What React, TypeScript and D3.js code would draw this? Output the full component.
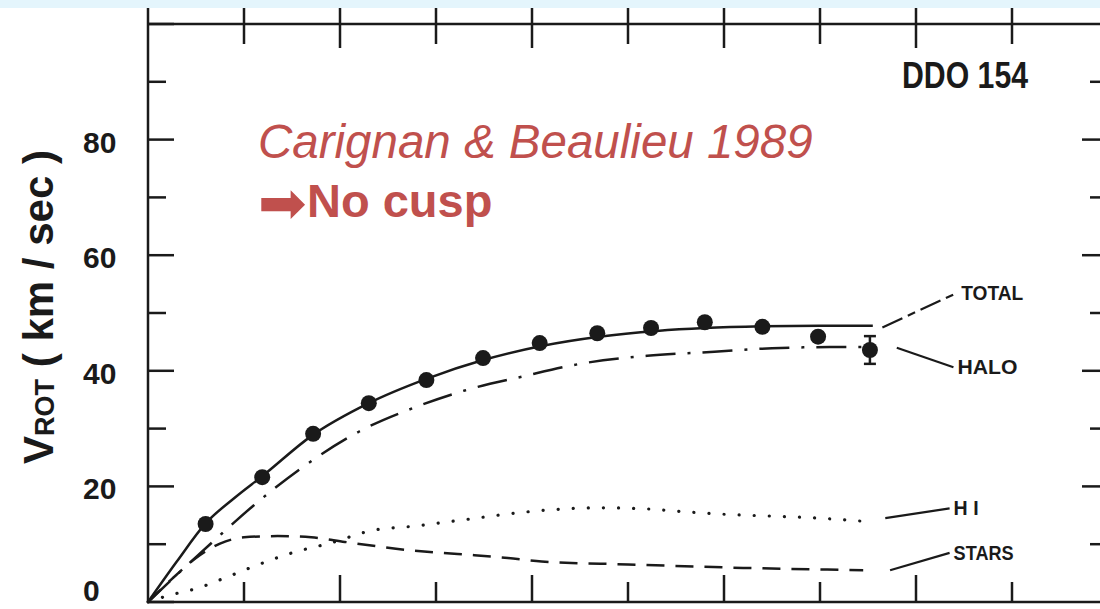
import React, { useRef, useEffect } from 'react';
import * as d3 from 'd3';

// rotation curve of DDO 154, radius in kpc, velocity in km/s
const pointR = [0.6, 1.19, 1.72, 2.3, 2.9, 3.49, 4.08, 4.68, 5.24, 5.8, 6.4, 6.98, 7.52];
const pointV = [13.5, 21.6, 29.1, 34.4, 38.4, 42.2, 44.8, 46.5, 47.4, 48.4, 47.6, 45.9, 43.6];
const pointErr = [0, 0, 0, 0, 0, 0, 0, 0, 0, 0, 0, 0, 2.4];

const totalR = [0, 0.3, 0.6, 0.9, 1.2, 1.7, 2.3, 2.9, 3.5, 4.1, 4.7, 5.3, 5.8, 6.4, 7.0, 7.55];
const totalV = [0, 7, 13.6, 18, 21.9, 28.7, 34.4, 38.6, 41.9, 44.3, 45.9, 46.9, 47.4, 47.7, 47.8, 47.8];

const haloR = [0, 0.3, 0.7, 1.1, 1.6, 2.2, 2.8, 3.3, 3.9, 4.5, 5.2, 5.9, 6.5, 7.1, 7.45];
const haloV = [0, 4.7, 10.8, 16.7, 23.2, 29.5, 33.8, 36.6, 39.0, 41.2, 42.6, 43.3, 43.9, 44.1, 44.1];

const hiR = [0, 0.23, 0.52, 0.82, 1.14, 1.5, 1.9, 2.34, 2.76, 3.28, 3.95, 4.7, 5.2, 5.6, 6.1, 6.6, 7.0, 7.5];
const hiV = [0, 1.2, 2.4, 4.3, 6.4, 8.5, 10.2, 12.4, 13.1, 14.2, 15.6, 16.3, 16.1, 15.6, 15.1, 14.8, 14.5, 13.9];

const starsR = [0, 0.25, 0.5, 0.75, 1.0, 1.35, 1.7, 2.05, 2.4, 2.7, 3.05, 3.4, 3.75, 4.1, 5.0, 6.2, 7.45];
const starsV = [0, 4.0, 7.6, 10.1, 11.2, 11.4, 11.2, 10.4, 9.6, 9.0, 8.5, 8.1, 7.6, 7.0, 6.5, 5.9, 5.5];

// curve labels with their leader lines (data units)
const labelNames = ['TOTAL', 'HALO', 'H I', 'STARS'];
const leaderFrom: [number, number][] = [[7.65, 47.5], [7.8, 44.0], [7.68, 14.5], [7.73, 5.5]];
const leaderTo: [number, number][] = [[8.43, 53.5], [8.39, 40.6], [8.35, 16.2], [8.35, 8.5]];

const yTickLabels = ['0', '20', '40', '60', '80'];
const xTicks = [1, 2, 3, 4, 5, 6, 7, 8, 9];

const INK = '#1a1a1a';
const RED = '#c0504d';

const App = () => {
  const svgRef = useRef<SVGSVGElement>(null);

  useEffect(() => {
    const svg = d3.select(svgRef.current);
    svg.selectAll('*').remove();

    const x = d3.scaleLinear().domain([0, 10]).range([148, 1108]);
    const y = d3.scaleLinear().domain([0, 100]).range([602, 24]);

    svg.append('rect').attr('width', 1100).attr('height', 609).attr('fill', '#fff');

    // frame
    const frame = svg.append('g').attr('stroke', INK).attr('stroke-width', 2.5);
    frame.append('line').attr('x1', x(0)).attr('x2', x(0)).attr('y1', 8).attr('y2', y(0));
    frame.append('line').attr('x1', x(0)).attr('x2', 1100).attr('y1', y(100)).attr('y2', y(100));
    frame.append('line').attr('x1', x(0)).attr('x2', 1100).attr('y1', y(0)).attr('y2', y(0));

    // ticks
    const yTicks = d3.range(0, 101, 10);
    frame.selectAll('.lt').data(yTicks).enter().append('line')
      .attr('x1', x(0)).attr('x2', d => x(0) + (d % 20 === 0 ? 26 : 18))
      .attr('y1', d => y(d)).attr('y2', d => y(d));
    frame.selectAll('.rt').data(yTicks.filter(d => d > 0 && d < 100)).enter().append('line')
      .attr('x1', d => x(10) - (d % 20 === 0 ? 26 : 18)).attr('x2', x(10))
      .attr('y1', d => y(d)).attr('y2', d => y(d));
    frame.selectAll('.tt').data(xTicks).enter().append('line')
      .attr('x1', d => x(d)).attr('x2', d => x(d))
      .attr('y1', 8).attr('y2', d => y(100) + (d % 2 === 0 ? 24 : 20));
    frame.selectAll('.bt').data(xTicks).enter().append('line')
      .attr('x1', d => x(d)).attr('x2', d => x(d))
      .attr('y1', y(0)).attr('y2', d => y(0) - (d % 2 === 0 ? 27 : 20));

    // y tick labels (the 0 sits a bit higher so it stays inside the picture)
    svg.selectAll('.yl').data(yTickLabels).enter().append('text')
      .attr('x', 83).attr('y', d => (+d === 0 ? 601 : y(+d) + 13))
      .attr('font-family', 'Liberation Sans, Arial, sans-serif')
      .attr('font-weight', 'bold').attr('font-size', 30).attr('fill', INK)
      .text(d => d);

    // y axis title
    const yt = svg.append('text')
      .attr('transform', `translate(53,307) rotate(-90)`)
      .attr('text-anchor', 'middle')
      .attr('font-family', 'Liberation Sans, Arial, sans-serif')
      .attr('font-weight', 'bold').attr('font-size', 42).attr('fill', INK);
    yt.append('tspan').text('V');
    yt.append('tspan').attr('font-size', 27).attr('dy', 1).text('ROT');
    yt.append('tspan').attr('dy', -1).text(' ( km / sec )');

    // curves
    const line = d3.line<[number, number]>()
      .x(d => x(d[0])).y(d => y(d[1]))
      .curve(d3.curveMonotoneX);
    const curves: { r: number[]; v: number[]; dash: string | null; cap: string; w: number }[] = [
      { r: totalR, v: totalV, dash: null, cap: 'butt', w: 2.5 },
      { r: haloR, v: haloV, dash: '30 12 3 12', cap: 'butt', w: 2.5 },
      { r: hiR, v: hiV, dash: '0.1 15', cap: 'round', w: 3.2 },
      { r: starsR, v: starsV, dash: '18 11', cap: 'butt', w: 2.5 },
    ];
    curves.forEach(c => {
      svg.append('path')
        .attr('d', line(c.r.map((r, i) => [r, c.v[i]] as [number, number])))
        .attr('fill', 'none').attr('stroke', INK).attr('stroke-width', c.w)
        .attr('stroke-linecap', c.cap)
        .attr('stroke-dasharray', c.dash);
    });

    // observed points
    const pts = pointR.map((r, i) => ({ r, v: pointV[i], e: pointErr[i] }));
    const eb = svg.append('g').attr('stroke', INK).attr('stroke-width', 2.5);
    pts.filter(p => p.e > 0).forEach(p => {
      eb.append('line').attr('x1', x(p.r)).attr('x2', x(p.r)).attr('y1', y(p.v + p.e)).attr('y2', y(p.v - p.e));
      eb.append('line').attr('x1', x(p.r) - 6).attr('x2', x(p.r) + 6).attr('y1', y(p.v + p.e)).attr('y2', y(p.v + p.e));
      eb.append('line').attr('x1', x(p.r) - 6).attr('x2', x(p.r) + 6).attr('y1', y(p.v - p.e)).attr('y2', y(p.v - p.e));
    });
    svg.selectAll('.pt').data(pts).enter().append('circle')
      .attr('cx', d => x(d.r)).attr('cy', d => y(d.v)).attr('r', 8).attr('fill', INK);

    // leaders and labels
    labelNames.forEach((name, i) => {
      const [r0, v0] = leaderFrom[i];
      const [r1, v1] = leaderTo[i];
      svg.append('line')
        .attr('x1', x(r0)).attr('y1', y(v0)).attr('x2', x(r1)).attr('y2', y(v1))
        .attr('stroke', INK).attr('stroke-width', 2.2)
        .attr('stroke-dasharray', i === 0 ? '22 6 8 6' : null);
      svg.append('text')
        .attr('x', x(r1) + 4).attr('y', y(v1))
        .attr('dominant-baseline', 'central')
        .attr('font-family', 'Liberation Sans, Arial, sans-serif')
        .attr('font-weight', 'bold').attr('font-size', 20).attr('fill', INK)
        .attr('textLength', [62, 60, 25, 60][i]).attr('lengthAdjust', 'spacingAndGlyphs')
        .text(name);
    });

    svg.append('text')
      .attr('x', 902).attr('y', 88)
      .attr('font-family', 'Liberation Sans, Arial, sans-serif')
      .attr('font-weight', 'bold').attr('font-size', 37).attr('fill', INK)
      .attr('textLength', 126).attr('lengthAdjust', 'spacingAndGlyphs')
      .text('DDO 154');

    // annotation in red
    svg.append('text')
      .attr('x', 258).attr('y', 158)
      .attr('font-family', 'Liberation Sans, Arial, sans-serif')
      .attr('font-style', 'italic').attr('font-size', 47.5).attr('fill', RED)
      .text('Carignan & Beaulieu 1989');

    const nc = svg.append('text')
      .attr('x', 258).attr('y', 217)
      .attr('font-family', 'Liberation Sans, Arial, sans-serif')
      .attr('font-weight', 'bold').attr('font-size', 47).attr('fill', RED);
    nc.append('tspan')
      .attr('font-family', 'DejaVu Sans, sans-serif').attr('font-weight', 'normal')
      .attr('font-size', 58).attr('dy', 6)
      .text('➡');
    nc.append('tspan').attr('x', 307).attr('dy', -6).text('No cusp');

    svg.append('rect').attr('width', 1100).attr('height', 8).attr('fill', '#e4f5fc');
  }, []);

  return (
    <svg ref={svgRef} width={1100} height={609}
      style={{ position: 'absolute', left: 0, top: 0, display: 'block' }} />
  );
};

export default App;
